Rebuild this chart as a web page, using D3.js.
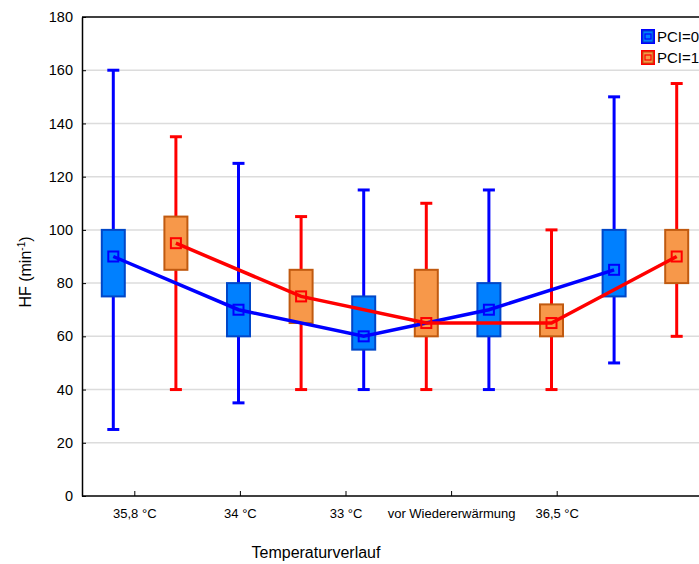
<!DOCTYPE html>
<html>
<head>
<meta charset="utf-8">
<script src="https://cdn.jsdelivr.net/npm/d3@7"></script>
<style>
  html, body { margin: 0; padding: 0; background: #fff; }
  svg { display: block; font-family: "Liberation Sans", Arial, sans-serif; }
</style>
</head>
<body>
<svg id="chart" width="699" height="564"></svg>
<script>
// Heart rate (HF) by temperature phase, grouped by PCI status
const categories = ["35,8 °C", "34 °C", "33 °C", "vor Wiedererwärmung", "36,5 °C"];
const yTicks = [0, 20, 40, 60, 80, 100, 120, 140, 160, 180];

// PCI=0
const pci0Mean = [90, 70, 60, 70, 85];
const pci0Q1   = [75, 60, 55, 60, 75];
const pci0Q3   = [100, 80, 75, 80, 100];
const pci0Min  = [25, 35, 40, 40, 50];
const pci0Max  = [160, 125, 115, 115, 150];

// PCI=1
const pci1Mean = [95, 75, 65, 65, 90];
const pci1Q1   = [85, 65, 60, 60, 80];
const pci1Q3   = [105, 85, 85, 72, 100];
const pci1Min  = [40, 40, 40, 40, 60];
const pci1Max  = [135, 105, 110, 100, 155];

const series = [
  { name: "PCI=0", mean: pci0Mean, q1: pci0Q1, q3: pci0Q3, min: pci0Min, max: pci0Max,
    line: "#0000ff", fill: "#0080ff", edge: "#0047c8", offset: -1 },
  { name: "PCI=1", mean: pci1Mean, q1: pci1Q1, q3: pci1Q3, min: pci1Min, max: pci1Max,
    line: "#ff0000", fill: "#f7984a", edge: "#c05a10", offset: 1 }
];

const svg = d3.select("#chart");
const plotLeft = 82, plotTop = 17, plotBottom = 496, plotRight = 708;

const y = d3.scaleLinear().domain([0, 180]).range([plotBottom, plotTop]);
// data positions: each category band holds the two groups side by side
const xData = d3.scaleBand().domain(categories).range([plotLeft, plotRight]).padding(0);
const groupShift = xData.bandwidth() / 4;
const xPos = (cat, s) => xData(cat) + xData.bandwidth() / 2 + s.offset * groupShift;
// category tick positions on the horizontal axis
const xTicks = d3.scaleBand().domain(categories).range([plotLeft, plotLeft + 528]).padding(0);

// grid
svg.append("g").selectAll("line")
  .data(yTicks.filter(t => t > 0 && t < 180))
  .join("line")
  .attr("x1", plotLeft).attr("x2", 699)
  .attr("y1", d => y(d)).attr("y2", d => y(d))
  .attr("stroke", "#dcdcdc").attr("stroke-width", 1.5);

// frame
svg.append("line").attr("x1", plotLeft).attr("x2", 699).attr("y1", plotTop).attr("y2", plotTop)
  .attr("stroke", "#000").attr("stroke-width", 1.5);

// y axis (ticks point into the plot)
const yAxis = svg.append("g").attr("transform", `translate(${plotLeft},0)`)
  .call(d3.axisLeft(y).tickValues(yTicks).tickSize(-4).tickPadding(9).tickSizeOuter(0));
yAxis.select(".domain").attr("stroke", "#000").attr("stroke-width", 1.5);
yAxis.selectAll(".tick line").attr("stroke", "#000");
yAxis.selectAll("text").attr("font-size", 14.5).attr("fill", "#000")
  .attr("font-family", "Liberation Sans, Arial, sans-serif");

// x axis
const xAxis = svg.append("g").attr("transform", `translate(0,${plotBottom})`)
  .call(d3.axisBottom(xTicks).tickSize(5).tickPadding(8).tickSizeOuter(0));
xAxis.select(".domain").attr("d", `M${plotLeft},0H699`).attr("stroke", "#000").attr("stroke-width", 1.5);
xAxis.selectAll(".tick line").attr("stroke", "#000").attr("y1", -5).attr("y2", 0);
xAxis.selectAll("text").attr("font-size", 13).attr("fill", "#000")
  .attr("font-family", "Liberation Sans, Arial, sans-serif");

// axis titles
svg.append("text")
  .attr("x", 316).attr("y", 558).attr("text-anchor", "middle")
  .attr("font-size", 16).attr("fill", "#000")
  .text("Temperaturverlauf");

const yTitle = svg.append("text")
  .attr("transform", "translate(31,272) rotate(-90)")
  .attr("text-anchor", "middle").attr("font-size", 16).attr("fill", "#000");
yTitle.append("tspan").text("HF (min");
yTitle.append("tspan").attr("font-size", 10).attr("dy", -6).text("-1");
yTitle.append("tspan").attr("dy", 6).text(")");

// boxes, whiskers, mean lines
const capW = 12, boxW = 23, markW = 10;
series.forEach(s => {
  const g = svg.append("g");
  const idx = d3.range(categories.length);

  g.selectAll(".whisker").data(idx).join("line")
    .attr("x1", i => xPos(categories[i], s)).attr("x2", i => xPos(categories[i], s))
    .attr("y1", i => y(s.min[i])).attr("y2", i => y(s.max[i]))
    .attr("stroke", s.line).attr("stroke-width", 3);

  ["min", "max"].forEach(k => {
    g.selectAll(".cap-" + k).data(idx).join("line")
      .attr("x1", i => xPos(categories[i], s) - capW / 2)
      .attr("x2", i => xPos(categories[i], s) + capW / 2)
      .attr("y1", i => y(s[k][i])).attr("y2", i => y(s[k][i]))
      .attr("stroke", s.line).attr("stroke-width", 3);
  });

  g.selectAll(".box").data(idx).join("rect")
    .attr("x", i => xPos(categories[i], s) - boxW / 2)
    .attr("width", boxW)
    .attr("y", i => y(s.q3[i]))
    .attr("height", i => y(s.q1[i]) - y(s.q3[i]))
    .attr("fill", s.fill).attr("stroke", s.edge).attr("stroke-width", 2);
});

series.forEach(s => {
  const idx = d3.range(categories.length);
  const line = d3.line().x(i => xPos(categories[i], s)).y(i => y(s.mean[i]));
  svg.append("path").datum(idx).attr("d", line)
    .attr("fill", "none").attr("stroke", s.line).attr("stroke-width", 3.5);
  svg.append("g").selectAll("rect").data(idx).join("rect")
    .attr("x", i => xPos(categories[i], s) - markW / 2)
    .attr("y", i => y(s.mean[i]) - markW / 2)
    .attr("width", markW).attr("height", markW)
    .attr("fill", "none").attr("stroke", s.line).attr("stroke-width", 2);
});

// legend
const legend = svg.append("g").attr("transform", "translate(641,29)");
series.forEach((s, k) => {
  const g = legend.append("g").attr("transform", `translate(0,${k * 21})`);
  g.append("rect").attr("x", 0).attr("y", 0).attr("width", 14).attr("height", 15)
    .attr("fill", s.line);
  g.append("rect").attr("x", 2).attr("y", 2).attr("width", 10).attr("height", 11)
    .attr("fill", s.fill).attr("stroke", s.edge).attr("stroke-width", 1);
  g.append("rect").attr("x", 4).attr("y", 5).attr("width", 6).attr("height", 5)
    .attr("fill", "none").attr("stroke", s.line).attr("stroke-width", 1.2);
  g.append("text").attr("x", 16).attr("y", 13).attr("font-size", 15).attr("fill", "#000")
    .text(s.name);
});
</script>
</body>
</html>
